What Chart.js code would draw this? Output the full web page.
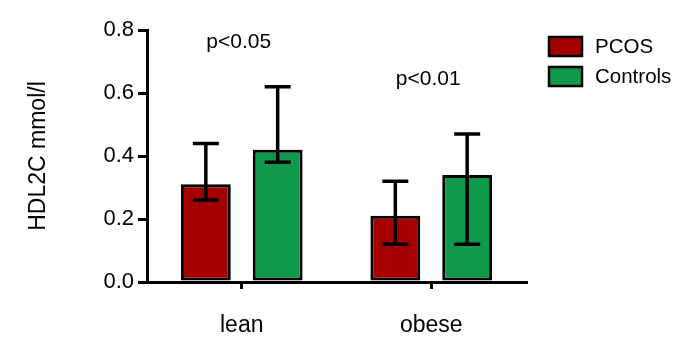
<!DOCTYPE html>
<html>
<head>
<meta charset="utf-8">
<script src="https://cdn.jsdelivr.net/npm/chart.js@4/dist/chart.umd.min.js"></script>
<style>
html,body{margin:0;padding:0;background:#fff;}
#wrap{width:695px;height:361px;position:relative;}
</style>
</head>
<body>
<div id="wrap"><canvas id="c" width="695" height="361"></canvas></div>
<script>
const categories = ["lean", "obese"];
const seriesNames = ["PCOS", "Controls"];
const pcosMean = [0.31, 0.21];
const pcosUpper = [0.44, 0.32];
const pcosLower = [0.26, 0.12];
const controlsMean = [0.42, 0.34];
const controlsUpper = [0.62, 0.47];
const controlsLower = [0.38, 0.12];
const yTicks = [0.0, 0.2, 0.4, 0.6, 0.8];
const pLabels = ["p<0.05", "p<0.01"];
const pLabelY = [0.743, 0.624];
const yTitle = "HDL2C mmol/l";

const colors = ["#a50000", "#0e9a4a"];
const FONT = "'Liberation Sans', Arial, sans-serif";

const errorBarPlugin = {
  id: 'errorBars',
  afterDatasetsDraw(chart) {
    const ctx = chart.ctx;
    const y = chart.scales.y;
    ctx.save();
    ctx.strokeStyle = '#000';
    ctx.lineWidth = 3.5;
    chart.data.datasets.forEach((ds, di) => {
      const meta = chart.getDatasetMeta(di);
      meta.data.forEach((bar, i) => {
        const x = bar.x;
        const yu = y.getPixelForValue(ds.upper[i]);
        const yl = y.getPixelForValue(ds.lower[i]);
        const cap = 13;
        ctx.beginPath();
        ctx.moveTo(x, yu); ctx.lineTo(x, yl);
        ctx.moveTo(x - cap, yu); ctx.lineTo(x + cap, yu);
        ctx.moveTo(x - cap, yl); ctx.lineTo(x + cap, yl);
        ctx.stroke();
      });
    });
    // p labels
    ctx.fillStyle = '#000';
    ctx.font = "21px " + FONT;
    ctx.textAlign = 'center';
    ctx.textBaseline = 'alphabetic';
    const xs = chart.scales.x;
    pLabels.forEach((t, i) => {
      ctx.fillText(t, xs.getPixelForValue(i) - 3, y.getPixelForValue(pLabelY[i]));
    });
    // legend
    const lx = 549, ly = [37, 67];
    ctx.font = "20.5px " + FONT;
    ctx.textAlign = 'left';
    ctx.textBaseline = 'middle';
    chart.data.datasets.forEach((ds, di) => {
      ctx.fillStyle = ds.backgroundColor;
      ctx.fillRect(lx, ly[di], 33, 19);
      ctx.lineWidth = 2.5;
      ctx.strokeStyle = '#000';
      ctx.strokeRect(lx, ly[di], 33, 19);
      ctx.fillStyle = '#000';
      ctx.fillText(ds.label, 595, ly[di] + 10);
    });
    ctx.restore();
  }
};

new Chart(document.getElementById('c'), {
  type: 'bar',
  data: {
    labels: categories,
    datasets: [
      { label: seriesNames[0], data: pcosMean, upper: pcosUpper, lower: pcosLower,
        backgroundColor: colors[0], borderColor: '#000', borderWidth: 3, borderSkipped: false },
      { label: seriesNames[1], data: controlsMean, upper: controlsUpper, lower: controlsLower,
        backgroundColor: colors[1], borderColor: '#000', borderWidth: 3, borderSkipped: false }
    ]
  },
  options: {
    responsive: false,
    animation: false,
    categoryPercentage: 0.758,
    barPercentage: 0.694,
    layout: { padding: { left: 25, right: 169, top: 30, bottom: 0 } },
    plugins: { legend: { display: false }, tooltip: { enabled: false } },
    scales: {
      x: {
        offset: true,
        grid: { drawOnChartArea: false, offset: false, color: '#000', lineWidth: 3, tickLength: 7 },
        border: { color: '#000', width: 3 },
        ticks: { color: '#000', font: { family: FONT, size: 23 }, padding: 23 },
        afterFit(s) { s.height = 79; }
      },
      y: {
        min: 0, max: 0.8,
        afterBuildTicks(s) { s.ticks = yTicks.map(v => ({ value: v })); },
        grid: { drawOnChartArea: false, color: '#000', lineWidth: 3, tickLength: 9 },
        border: { color: '#000', width: 3 },
        ticks: { color: '#000', font: { family: FONT, size: 22 }, padding: 4,
                 callback: v => v.toFixed(1) },
        title: { display: true, text: yTitle, color: '#000', font: { family: FONT, size: 23 }, padding: 0 },
        afterFit(s) { s.width = 122; }
      }
    }
  },
  plugins: [errorBarPlugin]
});
</script>
</body>
</html>
